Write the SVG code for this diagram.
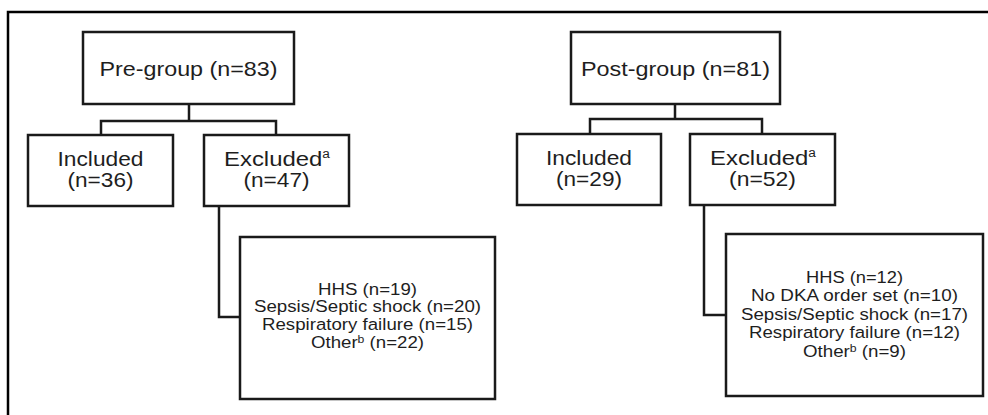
<svg xmlns="http://www.w3.org/2000/svg" width="988" height="415" viewBox="0 0 988 415">
<defs>
<style>
.frame{fill:none;stroke:#000;stroke-width:2.5}
.box{fill:#fff;stroke:#1a1a1a;stroke-width:2.5}
.conn{fill:none;stroke:#1a1a1a;stroke-width:2.5}
.t{font-family:"Liberation Sans",Arial,sans-serif;fill:#1e1e1e;text-anchor:middle}
.big{font-size:21px}
.sm{font-size:16.8px}
.sup{font-size:12px}
.supb{font-size:11px}
</style>
</defs>
<rect width="988" height="415" fill="#fff"/>
<path class="frame" d="M8 415 V12 H988"/>
<g id="connectors">
<path class="conn" d="M189 104 V121 M101 135 V121 H276 V135"/>
<path class="conn" d="M219 206 V317 H240"/>
<path class="conn" d="M675 104 V119 M590 134 V119 H762 V134"/>
<path class="conn" d="M704 205 V315 H726"/>
</g>
<g id="pre_group">
<rect class="box" x="83" y="32" width="211" height="72"/>
<text class="t big" x="188.5" y="76" textLength="178" lengthAdjust="spacingAndGlyphs">Pre-group (n=83)</text>
</g>
<g id="pre_included">
<rect class="box" x="28" y="135" width="145" height="71"/>
<text class="t big" x="100.5" y="166" textLength="86" lengthAdjust="spacingAndGlyphs">Included</text>
<text class="t big" x="100.5" y="187" textLength="66" lengthAdjust="spacingAndGlyphs">(n=36)</text>
</g>
<g id="pre_excluded">
<rect class="box" x="204" y="135" width="145" height="71"/>
<text class="t big" x="277" y="166" textLength="106" lengthAdjust="spacingAndGlyphs">Excluded<tspan class="sup" dy="-8">a</tspan></text>
<text class="t big" x="276.5" y="187" textLength="66" lengthAdjust="spacingAndGlyphs">(n=47)</text>
</g>
<g id="pre_reasons">
<rect class="box" x="240" y="237" width="255" height="162"/>
<text class="t sm" x="367.5" y="294.5" textLength="99" lengthAdjust="spacingAndGlyphs">HHS (n=19)</text>
<text class="t sm" x="367.5" y="312" textLength="227" lengthAdjust="spacingAndGlyphs">Sepsis/Septic shock (n=20)</text>
<text class="t sm" x="367.5" y="329.5" textLength="211" lengthAdjust="spacingAndGlyphs">Respiratory failure (n=15)</text>
<text class="t sm" x="367.5" y="347.5" textLength="113" lengthAdjust="spacingAndGlyphs">Other<tspan class="supb" dy="-5">b</tspan><tspan dy="5"> (n=22)</tspan></text>
</g>
<g id="post_group">
<rect class="box" x="571" y="32" width="209" height="72"/>
<text class="t big" x="675.5" y="76" textLength="189" lengthAdjust="spacingAndGlyphs">Post-group (n=81)</text>
</g>
<g id="post_included">
<rect class="box" x="517" y="134" width="144" height="71"/>
<text class="t big" x="589" y="165" textLength="86" lengthAdjust="spacingAndGlyphs">Included</text>
<text class="t big" x="589" y="186" textLength="66" lengthAdjust="spacingAndGlyphs">(n=29)</text>
</g>
<g id="post_excluded">
<rect class="box" x="690" y="134" width="145" height="71"/>
<text class="t big" x="763" y="165" textLength="106" lengthAdjust="spacingAndGlyphs">Excluded<tspan class="sup" dy="-8">a</tspan></text>
<text class="t big" x="762.5" y="186" textLength="67" lengthAdjust="spacingAndGlyphs">(n=52)</text>
</g>
<g id="post_reasons">
<rect class="box" x="726" y="234" width="257" height="162"/>
<text class="t sm" x="854.5" y="282.5" textLength="97" lengthAdjust="spacingAndGlyphs">HHS (n=12)</text>
<text class="t sm" x="854.5" y="301" textLength="207" lengthAdjust="spacingAndGlyphs">No DKA order set (n=10)</text>
<text class="t sm" x="854.5" y="319.5" textLength="227" lengthAdjust="spacingAndGlyphs">Sepsis/Septic shock (n=17)</text>
<text class="t sm" x="854.5" y="338" textLength="211" lengthAdjust="spacingAndGlyphs">Respiratory failure (n=12)</text>
<text class="t sm" x="854.5" y="357" textLength="103" lengthAdjust="spacingAndGlyphs">Other<tspan class="supb" dy="-5">b</tspan><tspan dy="5"> (n=9)</tspan></text>
</g>
</svg>
